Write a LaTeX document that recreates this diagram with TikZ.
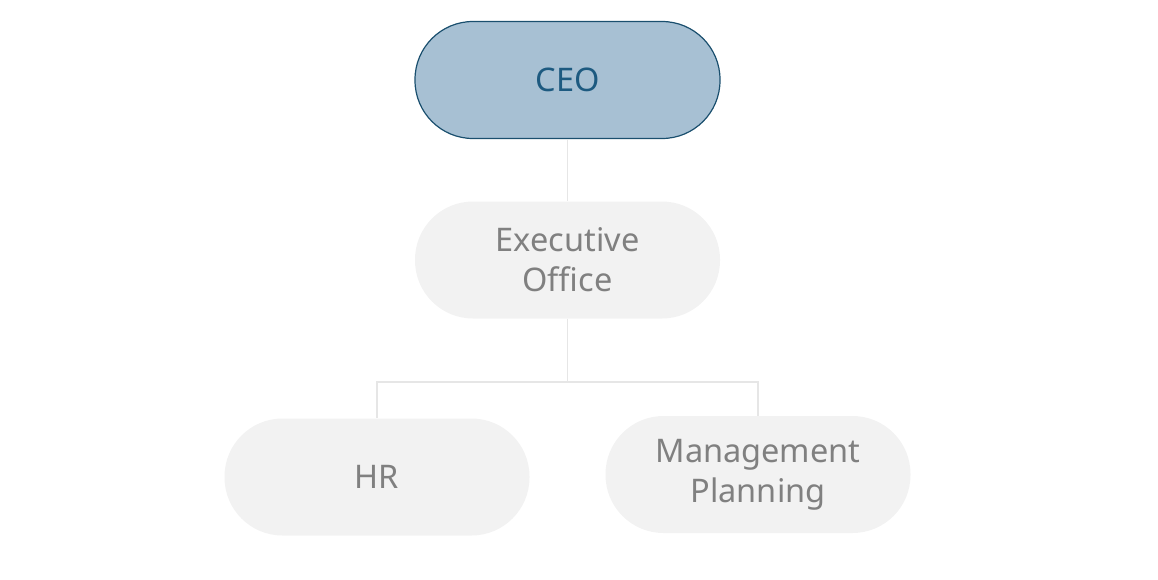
\documentclass[tikz,border=0pt]{standalone}
\usepackage{fontspec}
\setmainfont{Noto Sans}
\definecolor{ceofill}{HTML}{A7C0D3}
\definecolor{ceoline}{HTML}{1A4F6E}
\definecolor{ceotext}{HTML}{1D5A80}
\definecolor{unitfill}{HTML}{F2F2F2}
\definecolor{unittext}{HTML}{808080}
\definecolor{linkgray}{HTML}{E6E6E6}

\begin{document}
\begin{tikzpicture}[x=1pt,y=-1pt,
    unit/.style={rectangle,rounded corners=58pt,minimum width=305pt,minimum height=117pt,
      fill=unitfill,text=unittext,align=center,
      font=\fontsize{32.5}{40}\selectfont},
    top/.style={unit,fill=ceofill,draw=ceoline,line width=1.2pt,text=ceotext},
    link/.style={draw=linkgray,line width=1.5pt}]

    % frame
    \useasboundingbox (0,0) rectangle (1158,579);

    % boxes
    \node[top] (ceo) at (567.5,80) {CEO};
    \node[unit] (exec) at (567.5,260) {Executive\\Office};
    \node[unit] (hr) at (377,477) {HR};
    \node[unit] (plan) at (758,474.5) {Management\\Planning};

    % links
    \coordinate (split) at (567.5,382);
    \draw[link] (ceo) -- (exec);
    \draw[link] (exec) -- (split);
    \draw[link] (split) -| (hr);
    \draw[link] (split) -| (plan);

\end{tikzpicture}
\end{document}
